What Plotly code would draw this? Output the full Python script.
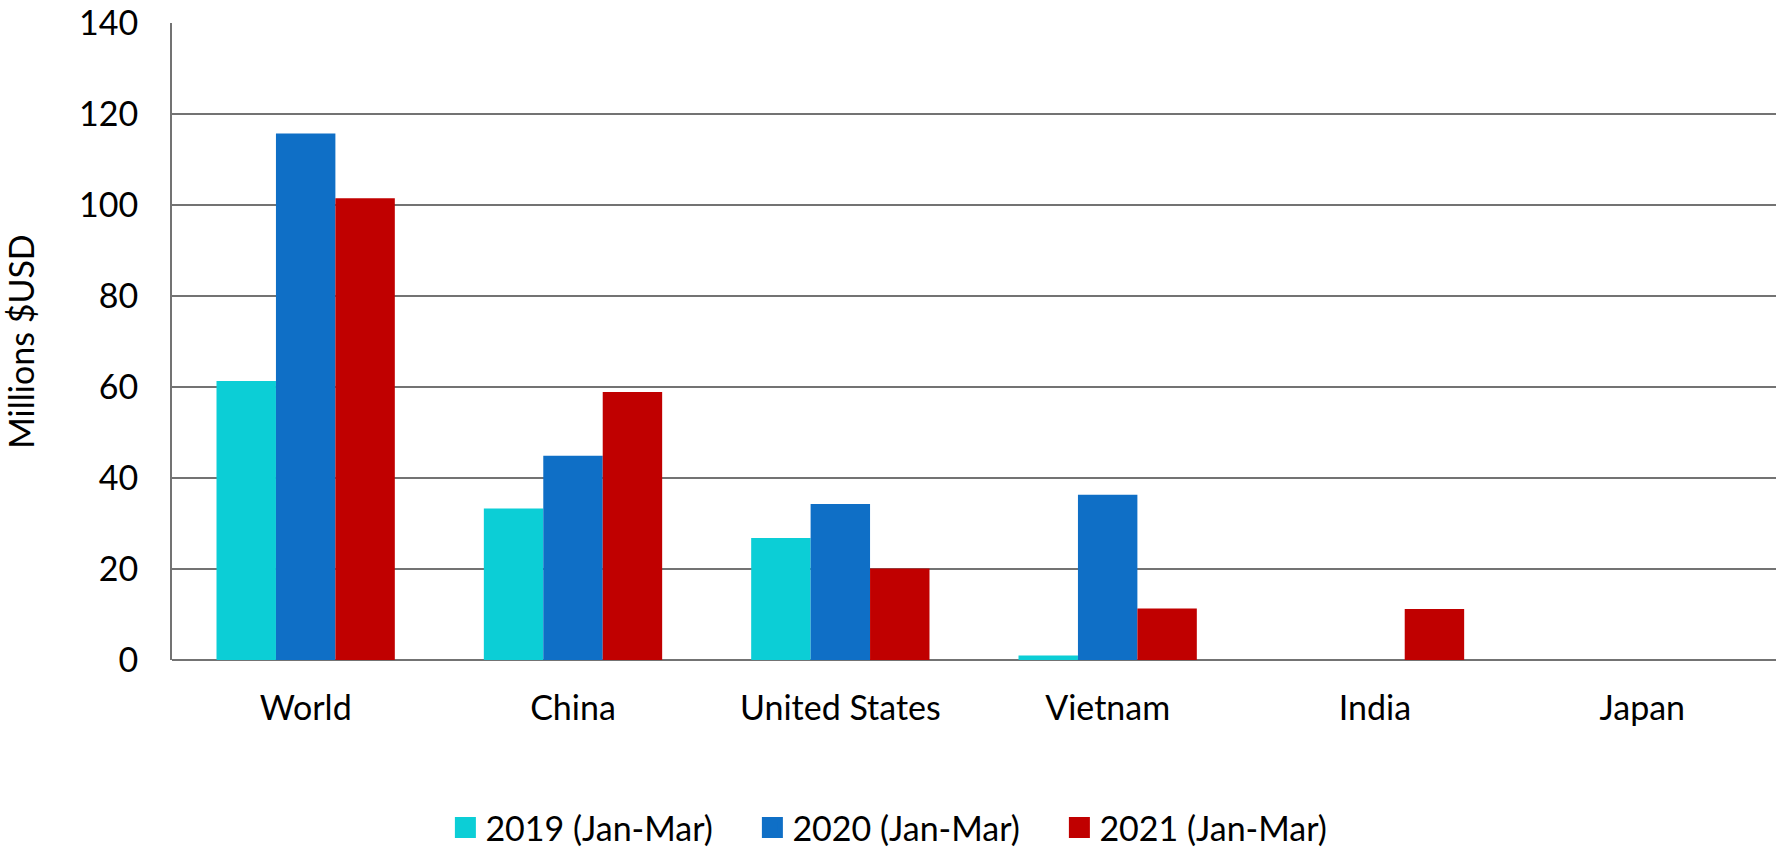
import plotly.graph_objects as go

categories = ["World", "China", "United States", "Vietnam", "India", "Japan"]
series_names = ["2019 (Jan-Mar)", "2020 (Jan-Mar)", "2021 (Jan-Mar)"]
values_2019 = [61.3, 33.3, 26.8, 1.0, 0.0, 0.0]
values_2020 = [115.7, 44.9, 34.3, 36.3, 0.0, 0.0]
values_2021 = [101.5, 58.9, 20.1, 11.3, 11.2, 0.0]
colors = ["#0CCED6", "#0F6FC6", "#C00000"]
y_ticks = [0, 20, 40, 60, 80, 100, 120, 140]

FONT = "Lato"
FS = 34
GRID = "#737373"

fig = go.Figure()
for name, vals, col in zip(series_names, [values_2019, values_2020, values_2021], colors):
    fig.add_trace(go.Bar(x=categories, y=vals, name=name, marker=dict(color=col, line=dict(width=0)),
                         showlegend=False))
    # legend entry with a larger square swatch
    fig.add_trace(go.Scatter(x=[None], y=[None], mode="markers", name=name,
                             marker=dict(symbol="square", size=16, color=col,
                                         line=dict(color=col, width=5)),
                             showlegend=True))

fig.update_layout(
    width=1785, height=847,
    margin=dict(l=172, r=9, t=23, b=187, autoexpand=False),
    paper_bgcolor="white", plot_bgcolor="white",
    barmode="group", bargap=0.333, bargroupgap=0,
    font=dict(family=FONT, size=FS, color="black"),
    legend=dict(orientation="h", xref="container", x=0.5075, xanchor="center",
                yref="paper", y=-0.2637, yanchor="middle",
                entrywidth=262, entrywidthmode="pixels",
                font=dict(family=FONT, size=FS, color="black"),
                itemsizing="trace"),
)
fig.update_yaxes(range=[0, 140], tickvals=y_ticks, showgrid=True, gridcolor=GRID, gridwidth=2,
                 zeroline=True, zerolinecolor=GRID, zerolinewidth=2,
                 showline=True, linecolor=GRID, linewidth=2, ticks="",
                 ticklabelstandoff=25, automargin=False,
                 title=dict(text="Millions $USD", standoff=34, font=dict(family=FONT, size=FS)))
fig.update_xaxes(showgrid=False, showline=False, ticks="", ticklabelstandoff=25, automargin=False)

fig.write_html("out.html", config={"displayModeBar": False},
               post_script="document.body.style.margin='0px';document.body.style.overflow='hidden';")
